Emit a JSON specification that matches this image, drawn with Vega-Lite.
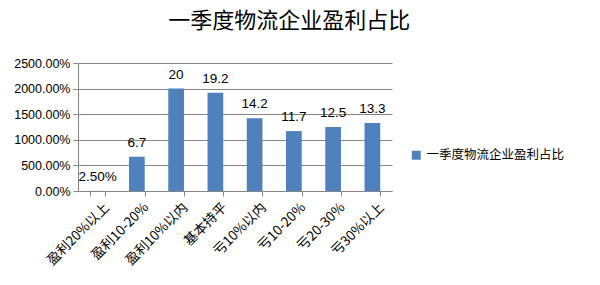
{
  "$schema": "https://vega.github.io/schema/vega-lite/v6.json",
  "autosize": "none",
  "width": 314,
  "height": 128,
  "padding": {"left": 78, "top": 63, "right": 208, "bottom": 94},
  "background": "white",
  "title": {
    "text": "一季度物流企业盈利占比",
    "font": "Noto Sans CJK SC",
    "fontSize": 22,
    "fontWeight": "normal",
    "color": "#000000",
    "anchor": "middle",
    "frame": "bounds",
    "offset": 24
  },
  "data": {
    "values": [
      {"cat": "盈利20%以上", "value": 0.025, "label": "2.50%", "series": "一季度物流企业盈利占比"},
      {"cat": "盈利10-20%", "value": 6.7, "label": "6.7", "series": "一季度物流企业盈利占比"},
      {"cat": "盈利10%以内", "value": 20, "label": "20", "series": "一季度物流企业盈利占比"},
      {"cat": "基本持平", "value": 19.2, "label": "19.2", "series": "一季度物流企业盈利占比"},
      {"cat": "亏10%以内", "value": 14.2, "label": "14.2", "series": "一季度物流企业盈利占比"},
      {"cat": "亏10-20%", "value": 11.7, "label": "11.7", "series": "一季度物流企业盈利占比"},
      {"cat": "亏20-30%", "value": 12.5, "label": "12.5", "series": "一季度物流企业盈利占比"},
      {"cat": "亏30%以上", "value": 13.3, "label": "13.3", "series": "一季度物流企业盈利占比"}
    ]
  },
  "encoding": {
    "x": {
      "field": "cat",
      "type": "nominal",
      "sort": null,
      "scale": {"paddingInner": 0.6, "paddingOuter": 0.3},
      "axis": {
        "title": null,
        "labelAngle": -45,
        "labelAlign": "right",
        "labelBaseline": "middle",
        "labelFont": "Noto Sans CJK SC",
        "labelFontSize": 13.5,
        "labelColor": "#000000",
        "labelPadding": 9,
        "labelOffset": 9,
        "tickBand": "extent",
        "tickSize": 5,
        "tickColor": "#868686",
        "domainColor": "#868686",
        "grid": false
      }
    },
    "y": {
      "field": "value",
      "type": "quantitative",
      "scale": {"domain": [0, 25]},
      "axis": {
        "title": null,
        "format": ".2%",
        "values": [0, 5, 10, 15, 20, 25],
        "labelFont": "Liberation Sans",
        "labelFontSize": 12.5,
        "labelColor": "#000000",
        "labelPadding": 3,
        "tickSize": 5,
        "tickColor": "#868686",
        "domainColor": "#868686",
        "gridColor": "#868686",
        "grid": true
      }
    }
  },
  "layer": [
    {
      "mark": {"type": "bar"},
      "encoding": {
        "color": {
          "field": "series",
          "type": "nominal",
          "scale": {"range": ["#4F81BD"]},
          "legend": {
            "title": null,
            "orient": "none",
            "legendX": 332,
            "legendY": 86,
            "symbolType": "square",
            "symbolSize": 80,
            "labelFont": "Noto Sans CJK SC",
            "labelFontSize": 12.5,
            "labelColor": "#000000"
          }
        }
      }
    },
    {
      "mark": {"type": "text", "dy": -14, "font": "Liberation Sans", "fontSize": 13.5, "color": "#000000"},
      "encoding": {"text": {"field": "label"}}
    }
  ],
  "config": {"view": {"stroke": null}}
}
